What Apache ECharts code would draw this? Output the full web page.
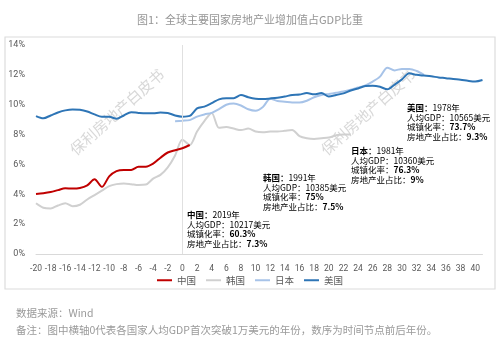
<!DOCTYPE html>
<html>
<head>
<meta charset="utf-8">
<script src="https://cdn.jsdelivr.net/npm/echarts@6/dist/echarts.min.js"></script>
<style>
html,body{margin:0;padding:0;background:#fff;}
#c{width:500px;height:345px;}
</style>
</head>
<body>
<div id="c"></div>
<script>
// x categories: years relative to the year GDP per capita first exceeded $10,000
var years = [];
for (var y = -20; y <= 41; y++) years.push(String(y));

var seriesNames = ['中国', '韩国', '日本', '美国'];

// China: -20 .. 1
var china = [4.02, 4.07, 4.15, 4.28, 4.40, 4.38, 4.42, 4.60, 5.00, 4.50, 5.20, 5.55, 5.63, 5.63, 5.85, 5.85, 6.05, 6.45, 6.80, 6.95, 7.08, 7.30];

// Korea: -20 .. 23
var korea = [3.40, 3.10, 3.05, 3.25, 3.40, 3.20, 3.30, 3.65, 3.95, 4.25, 4.55, 4.68, 4.73, 4.68, 4.62, 4.65, 5.05, 5.30, 5.80, 6.60, 7.65,
             7.30, 8.20, 8.90, 9.45, 8.45, 8.50, 8.40, 8.30, 8.40, 8.20, 8.15, 8.20, 8.20, 8.25, 8.30, 7.90, 7.75, 7.70, 7.75, 7.80, 7.95, 8.00, 8.00];

// Japan: -1 .. 33
var japan = [8.90, 8.93, 8.97, 9.20, 9.35, 9.45, 9.70, 10.00, 10.08, 9.95, 9.70, 9.60, 9.85, 10.40, 10.25, 10.20, 10.15, 10.15, 10.27, 10.50,
             10.65, 10.72, 10.80, 10.88, 11.00, 11.15, 11.30, 11.55, 11.88, 12.48, 12.30, 12.40, 12.40, 12.26, 12.00];

// USA: -20 .. 41
var usa = [9.24, 9.09, 9.28, 9.48, 9.62, 9.68, 9.66, 9.55, 9.35, 9.20, 9.20, 9.06, 9.28, 9.50, 9.45, 9.42, 9.42, 9.48, 9.45, 9.28, 9.20,
           9.25, 9.75, 9.87, 10.10, 10.36, 10.43, 10.43, 10.65, 10.50, 10.40, 10.38, 10.42, 10.47, 10.55, 10.65, 10.68, 10.78, 10.70, 10.78,
           10.55, 10.65, 10.76, 10.95, 11.09, 11.25, 11.27, 11.20, 11.03, 11.35, 11.70, 12.10, 12.00, 11.95, 11.90, 11.83, 11.78, 11.72, 11.68,
           11.60, 11.55, 11.65];

var yTicks = [0, 2, 4, 6, 8, 10, 12, 14];

function pad(arr, startYear) {
  var out = [];
  for (var i = 0; i < years.length; i++) {
    var yr = Number(years[i]);
    var idx = yr - startYear;
    out.push(idx >= 0 && idx < arr.length ? arr[idx] : null);
  }
  return out;
}

var colors = ['#c00000', '#d0d0d0', '#a7c3e8', '#2e75b6'];
var dataSets = [pad(china, -20), pad(korea, -20), pad(japan, -1), pad(usa, -20)];

var FONT = '"Noto Sans CJK SC", "Noto Sans", sans-serif';

var series = seriesNames.map(function (n, i) {
  var s = {
    name: n, type: 'line', data: dataSets[i], symbol: 'none', smooth: 0.3,
    connectNulls: false,
    lineStyle: { color: colors[i], width: 2 }, itemStyle: { color: colors[i] },
    z: i === 0 ? 5 : (i === 3 ? 4 : 3)
  };
  if (i === 1) {
    s.markLine = {
      silent: true, symbol: 'none', label: { show: false },
      lineStyle: { color: '#e0e0e0', type: 'solid', width: 1 },
      data: [{ xAxis: '0' }]
    };
  }
  return s;
});

var rich = {
  b: { fontFamily: FONT, fontSize: 8.5, fontWeight: 'bold', color: '#222', lineHeight: 9.5 },
  n: { fontFamily: FONT, fontSize: 8.5, color: '#333', lineHeight: 9.5 }
};

function note(x, y, country, year, gdp, urban, share) {
  return {
    type: 'text', left: x, top: y, z: 20,
    style: {
      text: '{b|' + country + '：}{n|' + year + '}\n{n|人均GDP：' + gdp + '}\n{n|城镇化率：}{b|' + urban + '}\n{n|房地产业占比：}{b|' + share + '}',
      rich: rich, fontFamily: FONT, fontSize: 8.5
    }
  };
}

var chart = echarts.init(document.getElementById('c'));
chart.setOption({
  animation: false,
  textStyle: { fontFamily: FONT },
  title: [
    { text: '图1：全球主要国家房地产业增加值占GDP比重', left: 'center', top: 9,
      textStyle: { fontSize: 11, fontWeight: 'normal', color: '#959595', fontFamily: FONT } },
    { text: '数据来源：Wind', left: 11, top: 303,
      textStyle: { fontSize: 10.5, fontWeight: 'normal', color: '#9a9a9a', fontFamily: FONT } },
    { text: '备注：图中横轴0代表各国家人均GDP首次突破1万美元的年份，数序为时间节点前后年份。', left: 11, top: 320,
      textStyle: { fontSize: 10.5, fontWeight: 'normal', color: '#9a9a9a', fontFamily: FONT } }
  ],
  grid: { left: 36, right: 17.5, top: 45, bottom: 91, containLabel: false },
  legend: {
    data: seriesNames, bottom: 55, left: 'center', icon: 'rect', itemWidth: 15, itemHeight: 2, itemGap: 10,
    textStyle: { fontSize: 9.5, color: '#595959', fontFamily: FONT }
  },
  xAxis: {
    type: 'category', data: years, boundaryGap: false,
    axisLine: { lineStyle: { color: '#d9d9d9' } },
    axisTick: { show: false },
    axisLabel: { interval: 1, color: '#595959', fontSize: 8.5, margin: 10, fontFamily: 'Roboto, "Noto Sans", sans-serif' },
    splitLine: { show: false }
  },
  yAxis: {
    type: 'value', min: yTicks[0], max: yTicks[yTicks.length - 1], interval: 2,
    axisLine: { show: false }, axisTick: { show: false },
    splitLine: { show: false },
    axisLabel: { formatter: '{value}%', color: '#595959', fontSize: 9, margin: 11, fontFamily: 'Roboto, "Noto Sans", sans-serif' }
  },
  graphic: [
    { type: 'rect', shape: { x: 5, y: 37, width: 490, height: 252 }, style: { fill: 'none', stroke: '#dcdcdc', lineWidth: 1.2 }, z: 0 },
    { type: 'text', x: 117, y: 112, rotation: 0.73, z: 1,
      style: { text: '保利房地产白皮书', fontSize: 15, fill: 'rgba(200,200,200,0.7)', fontFamily: '"Noto Sans CJK SC"', align: 'center', verticalAlign: 'middle' } },
    { type: 'text', x: 368, y: 112, rotation: 0.73, z: 1,
      style: { text: '保利房地产白皮书', fontSize: 15, fill: 'rgba(200,200,200,0.7)', fontFamily: '"Noto Sans CJK SC"', align: 'center', verticalAlign: 'middle' } },
    note(187, 211, '中国', '2019年', '10217美元', '60.3%', '7.3%'),
    note(263, 174, '韩国', '1991年', '10385美元', '75%', '7.5%'),
    note(351, 147, '日本', '1981年', '10360美元', '76.3%', '9%'),
    note(407, 104, '美国', '1978年', '10565美元', '73.7%', '9.3%')
  ],
  series: series
});
</script>
</body>
</html>
